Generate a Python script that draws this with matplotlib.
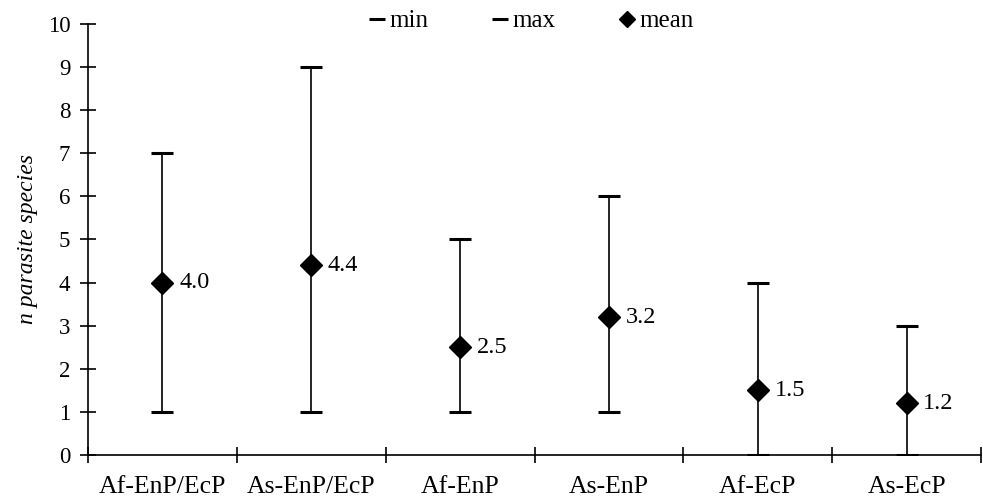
import matplotlib.pyplot as plt
from matplotlib.lines import Line2D

groups = ['Af-EnP/EcP', 'As-EnP/EcP', 'Af-EnP', 'As-EnP', 'Af-EcP', 'As-EcP']
min_vals = [1, 1, 1, 1, 0, 0]
max_vals = [7, 9, 5, 6, 4, 3]
mean_vals = [4.0, 4.4, 2.5, 3.2, 1.5, 1.2]

plt.rcParams['font.family'] = ['Liberation Serif', 'DejaVu Serif']

fig = plt.figure(figsize=(9.83, 5.01), dpi=100)
ax = fig.add_axes([0.0895, 0.092, 0.9085, 0.86])

xs = list(range(len(groups)))
for x, lo, hi, m in zip(xs, min_vals, max_vals, mean_vals):
    ax.plot([x, x], [lo, hi], color='black', lw=1.2)
    ax.plot([x], [lo], marker='_', color='black', ms=16, mew=2.2)
    ax.plot([x], [hi], marker='_', color='black', ms=16, mew=2.2)
    ax.plot([x], [m], marker='D', color='black', ms=11.5, zorder=5)
    ax.annotate(f'{m:.1f}', (x, m), xytext=(12, 0), textcoords='offset points',
                va='center', ha='left', fontsize=17.5)

ax.set_xlim(-0.5, len(groups) - 0.5)
ax.set_ylim(0, 10)
ax.set_yticks(range(0, 11))
ax.tick_params(axis='y', direction='inout', length=11.5, width=1.2, labelsize=16.5, pad=7)

ax.set_xticks([x - 0.5 for x in range(len(groups) + 1)])
ax.set_xticklabels([])
ax.set_xticks(xs, minor=True)
ax.set_xticklabels(groups, minor=True, fontsize=18.5)
ax.tick_params(axis='x', which='major', direction='inout', length=11, width=1.2)
ax.tick_params(axis='x', which='minor', length=0, pad=15)

for s in ['top', 'right']:
    ax.spines[s].set_visible(False)
for s in ['left', 'bottom']:
    ax.spines[s].set_linewidth(1.2)

ax.set_ylabel('n parasite species', fontsize=17, style='italic', labelpad=7)

handles = [
    Line2D([], [], color='black', marker='_', ls='none', ms=11, mew=2.2),
    Line2D([], [], color='black', marker='_', ls='none', ms=11, mew=2.2),
    Line2D([], [], color='black', marker='D', ls='none', ms=8.5),
]
fig.legend(handles, ['min', 'max', 'mean'], loc='upper center', bbox_to_anchor=(0.54, 1.025),
           ncol=3, frameon=False, fontsize=18, handlelength=0.7, handletextpad=0.15,
           columnspacing=2.5)

fig.savefig('out.png', dpi=100)
